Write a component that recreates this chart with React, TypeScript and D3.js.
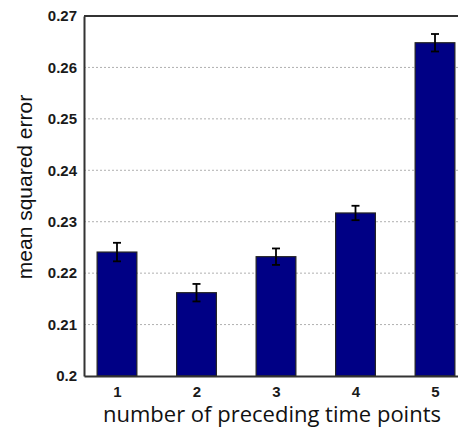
import React, { useEffect, useRef } from "react";
import * as d3 from "d3";

const categories = [1, 2, 3, 4, 5];
const means = [0.2241, 0.2162, 0.2232, 0.2317, 0.2648];
const errors = [0.0018, 0.0017, 0.0016, 0.0014, 0.0017];
const yTicks = [0.2, 0.21, 0.22, 0.23, 0.24, 0.25, 0.26, 0.27];

const W = 458;
const H = 429;

export default function App() {
  const ref = useRef<SVGSVGElement>(null);

  useEffect(() => {
    const svg = d3.select(ref.current);
    svg.selectAll("*").remove();

    const x = d3.scaleLinear().domain([0.585, 5.415]).range([84, 468]);
    const y = d3.scaleLinear().domain([0.2, 0.27]).range([376, 16]);
    const half = x(1.25) - x(1);

    // grid lines
    svg
      .append("g")
      .selectAll("line")
      .data(yTicks.filter(t => t > 0.2 && t < 0.27))
      .join("line")
      .attr("x1", 84)
      .attr("x2", W)
      .attr("y1", d => y(d))
      .attr("y2", d => y(d))
      .attr("stroke", "#b0b0b0")
      .attr("stroke-width", 1)
      .attr("stroke-dasharray", "2,2");

    const data = categories.map((c, i) => ({ c, m: means[i], e: errors[i] }));

    // bars
    svg
      .append("g")
      .selectAll("rect")
      .data(data)
      .join("rect")
      .attr("x", d => x(d.c) - half)
      .attr("width", half * 2)
      .attr("y", d => y(d.m))
      .attr("height", d => y(0.2) - y(d.m))
      .attr("fill", "#000085")
      .attr("stroke", "#222")
      .attr("stroke-width", 1.2);

    // error bars
    const eb = svg.append("g").attr("stroke", "#000").attr("stroke-width", 1.8);
    eb.selectAll(".v")
      .data(data)
      .join("line")
      .attr("x1", d => x(d.c))
      .attr("x2", d => x(d.c))
      .attr("y1", d => y(d.m + d.e))
      .attr("y2", d => y(d.m - d.e));
    eb.selectAll(".cap")
      .data(data)
      .join("line")
      .attr("x1", d => x(d.c) - 4)
      .attr("x2", d => x(d.c) + 4)
      .attr("y1", d => y(d.m + d.e))
      .attr("y2", d => y(d.m + d.e));
    eb.selectAll(".capb")
      .data(data)
      .join("line")
      .attr("x1", d => x(d.c) - 4)
      .attr("x2", d => x(d.c) + 4)
      .attr("y1", d => y(d.m - d.e))
      .attr("y2", d => y(d.m - d.e));

    // axes box
    const yAxis = d3.axisLeft(y).tickValues(yTicks).tickSize(0).tickPadding(7).tickFormat(d => String(+d));
    const gy = svg.append("g").attr("transform", "translate(84,0)").call(yAxis);
    gy.select(".domain").attr("stroke", "#333").attr("stroke-width", 2);
    gy.selectAll("text")
      .attr("font-family", "Liberation Sans, Arial, sans-serif")
      .attr("font-size", 15)
      .attr("font-weight", "bold")
      .attr("fill", "#1a1a1a");

    const xAxis = d3.axisBottom(x).tickValues(categories).tickSize(0).tickPadding(10).tickFormat(d => String(d));
    const gx = svg.append("g").attr("transform", "translate(0,376)").call(xAxis);
    gx.select(".domain").attr("stroke", "#333").attr("stroke-width", 2);
    gx.selectAll("text")
      .attr("font-family", "Liberation Sans, Arial, sans-serif")
      .attr("font-size", 15)
      .attr("font-weight", "bold")
      .attr("fill", "#1a1a1a");

    svg.append("line")
      .attr("x1", 84).attr("x2", W)
      .attr("y1", y(0.27)).attr("y2", y(0.27))
      .attr("stroke", "#333").attr("stroke-width", 2);

    // axis titles
    svg.append("text")
      .attr("x", 272)
      .attr("y", 422)
      .attr("text-anchor", "middle")
      .attr("font-family", "Open Sans, sans-serif")
      .attr("font-size", 22)
      .attr("fill", "#111")
      .text("number of preceding time points");

    svg.append("text")
      .attr("transform", "translate(32,187) rotate(-90)")
      .attr("text-anchor", "middle")
      .attr("font-family", "Liberation Sans, Arial, sans-serif")
      .attr("font-size", 21)
      .attr("fill", "#111")
      .text("mean squared error");
  }, []);

  return (
    <div style={{ position: "absolute", left: 0, top: 0 }}>
      <svg ref={ref} width={W} height={H} style={{ display: "block", background: "#fff" }} />
    </div>
  );
}
